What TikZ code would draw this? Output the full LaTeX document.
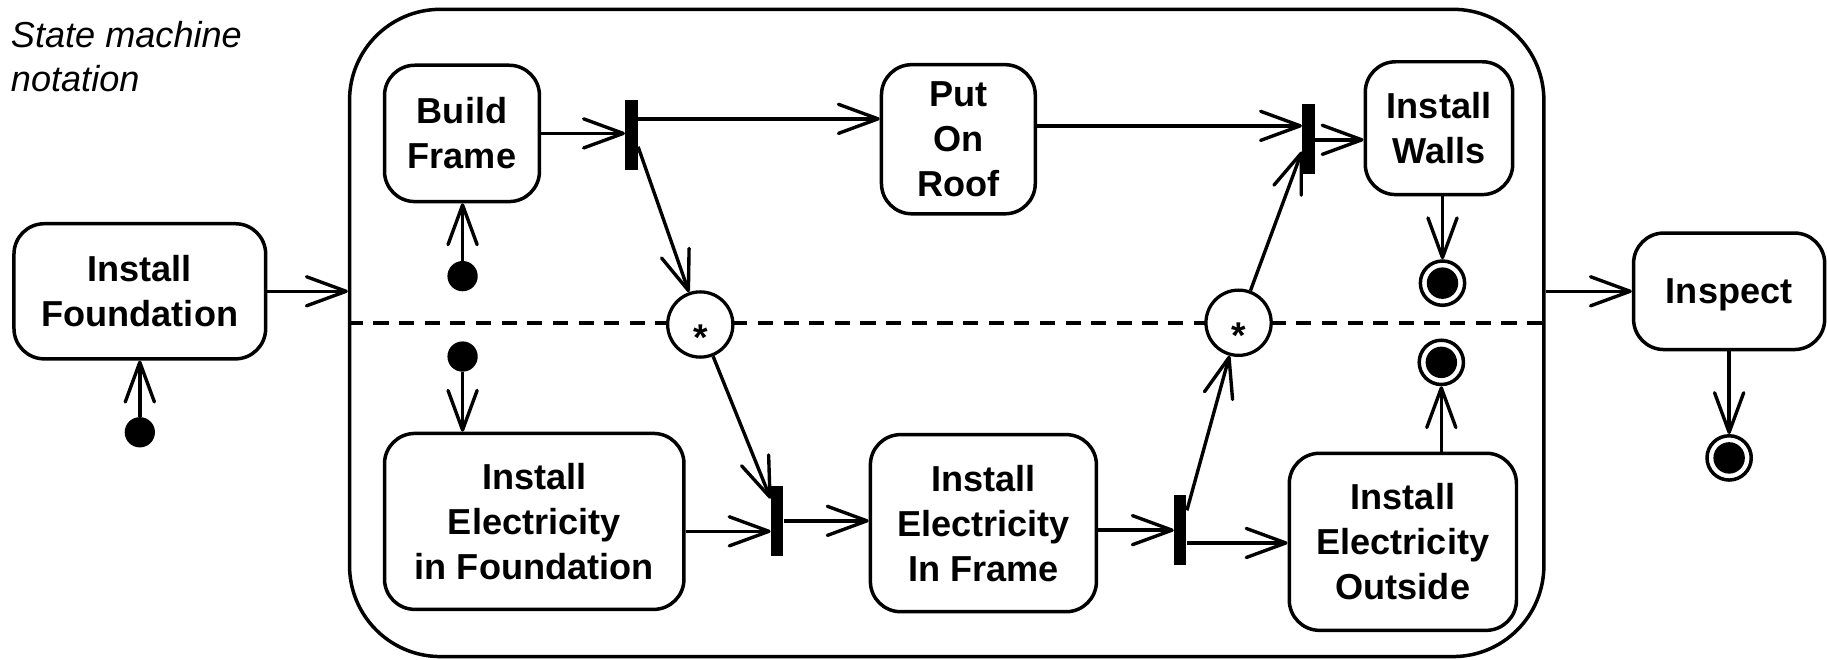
\documentclass[tikz,border=0pt]{standalone}
\usepackage{fontspec}
\setmainfont{Liberation Sans}
\usetikzlibrary{arrows.meta,calc}
\tikzset{
  state/.style={draw, line width=1.5pt, rounded corners=13pt, align=center,
    font=\bfseries\fontsize{15.5}{19.3}\selectfont, inner sep=0pt},
  forkbar/.style={fill=black, inner sep=0pt, minimum width=5.25pt, minimum height=30pt},
  initdot/.style={circle, fill=black, inner sep=0pt, minimum size=13pt},
  finalst/.style={circle, draw, line width=1.5pt, inner sep=0pt, minimum size=19pt,
    path picture={\fill[black] (path picture bounding box.center) circle (6.75pt);}},
  syncst/.style={circle, draw, fill=white, line width=1.4pt, inner sep=0pt, minimum size=28pt,
    font=\bfseries\fontsize{16}{18}\selectfont, text height=22pt, text depth=0pt},
  trans/.style={line width=1.45pt, -{Straight Barb[length=17pt,width=12.5pt,round]}}
}
\begin{document}
\begin{tikzpicture}[x=0.5pt,y=-0.5pt]
\useasboundingbox (0,0) rectangle (1568,566);

\node[anchor=north west, inner sep=0pt, align=left, font=\itshape\fontsize{15.5}{19.2}\selectfont] (title) at (9,17.5) {State machine\\notation};

% composite state
\node[draw, line width=1.5pt, rounded corners=39pt, minimum width=512.5pt, minimum height=277.75pt, inner sep=0pt] (comp) at (812.5,285.75) {};
\draw[line width=1.6pt, dash pattern=on 6.5pt off 4.5pt] (comp.west |- 0,277) -- (comp.east |- 0,277);

% states
\node[state, minimum width=108pt, minimum height=58pt] (IF) at (120,250) {Install\\Foundation};
\node[state, minimum width=66.5pt, minimum height=58.5pt] (BF) at (396.5,114.5) {Build\\Frame};
\node[state, minimum width=66pt, minimum height=64pt] (PR) at (822.5,119.5) {Put\\On\\Roof};
\node[state, minimum width=63.25pt, minimum height=57pt] (IW) at (1235,110) {Install\\Walls};
\node[state, minimum width=82pt, minimum height=50pt, text depth=0pt] (INS) at (1484,250) {Inspect};
\node[state, minimum width=128.5pt, minimum height=75.5pt] (IEF) at (458.5,447.5) {Install\\Electricity\\in Foundation};
\node[state, minimum width=97pt, minimum height=76pt] (IEIF) at (844,449) {Install\\Electricity\\In Frame};
\node[state, minimum width=97.5pt, minimum height=76pt] (IEO) at (1204,465) {Install\\Electricity\\Outside};

% fork / join bars
\node[forkbar] (B1) at (542,116) {};
\node[forkbar] (B2) at (1123,119) {};
\node[forkbar] (B3) at (667,447) {};
\node[forkbar] (B4) at (1013,455) {};

% sync states
\node[syncst] (S1) at (601,278.5) {*};
\node[syncst] (S2) at (1063,277) {*};

% initial states
\node[initdot] (D1) at (120,371) {};
\node[initdot] (D2) at (397,237) {};
\node[initdot] (D3) at (397,306) {};

% final states
\node[finalst] (F1) at (1238,243) {};
\node[finalst] (F2) at (1237,311) {};
\node[finalst] (F3) at (1484,393) {};

% transitions
\draw[trans] (IF.east) -- (IF.east -| comp.west);
\draw[trans] (D1) -- (IF.south);
\draw[trans] (D2) -- (D2 |- BF.south);
\draw[trans] (BF.east) -- (BF.east -| B1.west);
\draw[trans] (B1.east |- 0,102) -- (PR.west |- 0,102);
\draw[trans] (PR.east |- 0,108) -- (B2.west |- 0,108);
\draw[trans] (B2.east |- 0,120) -- (IW.west |- 0,120);
\draw[trans] (F1 |- IW.south) -- (F1);
\draw[trans] (B1.east |- 0,126) -- (S1);
\draw[trans] (S1) -- (B3.west |- 0,428);
\draw[trans] (IEF.east |- 0,456) -- (B3.west |- 0,456);
\draw[trans] (B3.east |- 0,447) -- (IEIF.west |- 0,447);
\draw[trans] (IEIF.east |- 0,455) -- (B4.west |- 0,455);
\draw[trans] (B4.east |- 0,466) -- (IEO.west |- 0,466);
\draw[trans] (B4.east |- 0,438) -- (S2);
\draw[trans] (S2) -- (B2.west |- 0,130);
\draw[trans] (F2 |- IEO.north) -- (F2);
\draw[trans] (comp.east |- INS.west) -- (INS.west);
\draw[trans] (F3 |- INS.south) -- (F3);
\draw[trans] (D3) -- (D3 |- IEF.north);
\end{tikzpicture}
\end{document}
